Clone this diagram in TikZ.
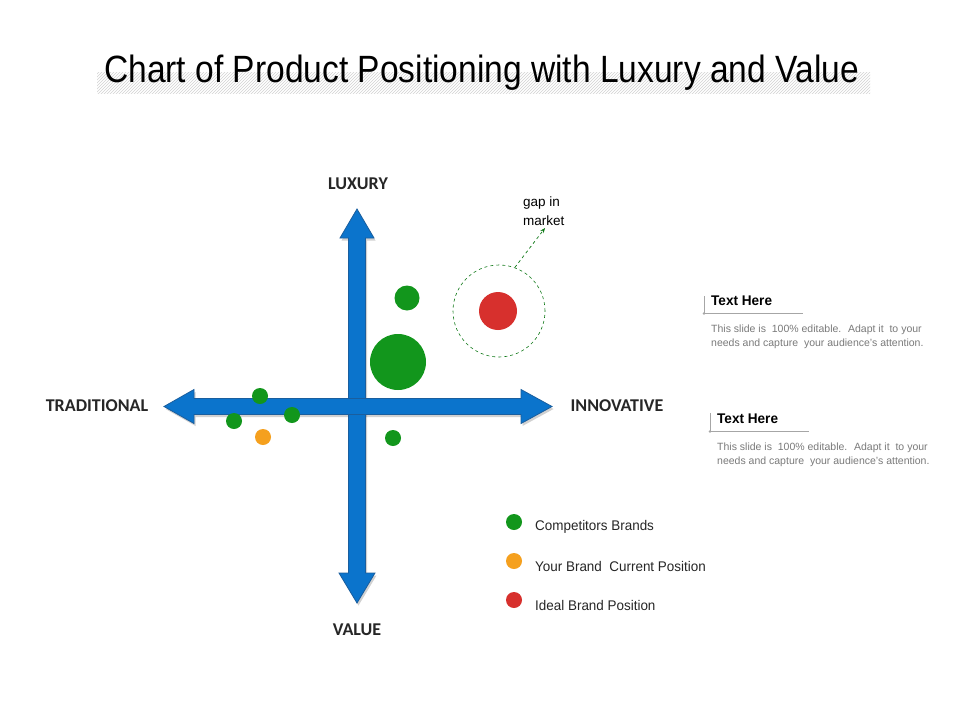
\documentclass[tikz,border=0pt]{standalone}
\usepackage{fontspec}
\setmainfont{Liberation Sans}
\newfontfamily\carlito{Carlito}
\usetikzlibrary{patterns,arrows.meta}
\definecolor{arrblue}{HTML}{0B74CC}
\definecolor{arredge}{HTML}{1A5E9E}
\definecolor{dotgreen}{HTML}{12961C}
\definecolor{dotred}{HTML}{D7302D}
\definecolor{dotorange}{HTML}{F5A01E}
\definecolor{txtgray}{HTML}{7A7A7A}
\definecolor{lblgray}{HTML}{262626}
\tikzset{
  axisarrow/.style={fill=arrblue, draw=arredge, line width=0.8pt, line join=miter},
  arrshadow/.style={fill=black, opacity=0.18},
  dot/.style={circle, inner sep=0pt, minimum size=#1, draw=none},
  gdot/.style={dot=#1, fill=dotgreen},
  axislabel/.style={font=\carlito\bfseries\fontsize{18}{20}\selectfont, text=lblgray, inner sep=0pt},
  legtext/.style={font=\fontsize{14}{16}\selectfont, text=lblgray, anchor=west, inner sep=0pt, xscale=0.96},
  headtext/.style={font=\bfseries\fontsize{14}{16}\selectfont, text=black, anchor=west, inner sep=0pt, xscale=0.97},
  bodytext/.style={font=\fontsize{10.5}{14}\selectfont, text=txtgray, anchor=north west, inner sep=0pt, align=left},
  calloutline/.style={draw=gray!70, line width=0.6pt},
}
\begin{document}
\begin{tikzpicture}[x=1pt,y=-1pt]
\useasboundingbox (0,0) rectangle (960,720);
\fill[white] (0,0) rectangle (960,720);
% title band
\fill[pattern=north east lines, pattern color=gray!35] (97,72) rectangle (870,93);
\node[anchor=base west, inner sep=0pt, font=\fontsize{38}{40}\selectfont, xscale=0.883] (title) at (104,82) {Chart of Product Positioning with Luxury and Value};
% shadows of arrows
\begin{scope}[shift={(1.5,2.5)}]
\fill[arrshadow] (357,209) -- (374,238) -- (365.5,238) -- (365.5,573) -- (375,573) -- (357,603) -- (339,573) -- (348.5,573) -- (348.5,238) -- (340,238) -- cycle;
\fill[arrshadow] (164,406.5) -- (194,389.5) -- (194,398.5) -- (521,398.5) -- (521,389.5) -- (552,406.5) -- (521,423.5) -- (521,414.5) -- (194,414.5) -- (194,423.5) -- cycle;
\end{scope}
% vertical arrow
\draw[axisarrow] (357,209) -- (374,238) -- (365.5,238) -- (365.5,573) -- (375,573) -- (357,603) -- (339,573) -- (348.5,573) -- (348.5,238) -- (340,238) -- cycle;
% horizontal arrow
\draw[axisarrow] (164,406.5) -- (194,389.5) -- (194,398.5) -- (521,398.5) -- (521,389.5) -- (552,406.5) -- (521,423.5) -- (521,414.5) -- (194,414.5) -- (194,423.5) -- cycle;
% axis labels
\node[axislabel] (lux) at (358,184) {LUXURY};
\node[axislabel] (val) at (357,630) {VALUE};
\node[axislabel] (trad) at (97,406) {TRADITIONAL};
\node[axislabel] (inno) at (617,406) {INNOVATIVE};
% dots
\node[gdot=25pt] (g1) at (407,298) {};
\node[gdot=56pt] (g2) at (398,362) {};
\node[gdot=16pt] (g3) at (260,396) {};
\node[gdot=16pt] (g4) at (234,421) {};
\node[gdot=16pt] (g5) at (292,415) {};
\node[gdot=16pt] (g6) at (393,438) {};
\node[dot=16pt, fill=dotorange] (o1) at (263,437) {};
% ideal position
\node[dot=92pt, draw=dotgreen!80!black, dashed, line width=0.6pt, fill=none] (gap) at (499,311) {};
\node[dot=38pt, fill=dotred] (r1) at (498,311) {};
\coordinate (gaptip) at (545,228);
\draw[dotgreen!80!black, dashed, line width=0.7pt, -{Stealth[length=5pt,width=4pt]}] (gap.70) -- (gaptip);
\node[anchor=north west, inner sep=0pt, align=left, font=\fontsize{13.5}{19}\selectfont] (gaptext) at (523,197) {gap in\\market};
% legend
\node[gdot=16pt] (lg) at (514,522) {};
\node[dot=16pt, fill=dotorange] (lo) at (514,561) {};
\node[dot=16pt, fill=dotred] (lr) at (514,600) {};
\node[legtext] (lgt) at (535,527) {Competitors Brands};
\node[legtext] (lot) at (535,566) {Your Brand~ Current Position};
\node[legtext] (lrt) at (535,605) {Ideal Brand Position};
% text block 1
\coordinate (c1a) at (704,296);
\coordinate (c1b) at (704,313.5);
\coordinate (c1c) at (803,313.5);
\draw[calloutline] (c1a) -- (c1b) -- (c1c);
\fill[gray!70] (c1b) circle (1.4pt);
\node[headtext] (h1) at (711,301) {Text Here};
\node[bodytext] (b1) at (711,324.5) {This slide is~ 100\% editable.~ Adapt it~ to your\\needs and capture~ your audience's attention.};
% text block 2
\coordinate (c2a) at (710,413);
\coordinate (c2b) at (710,431.5);
\coordinate (c2c) at (809,431.5);
\draw[calloutline] (c2a) -- (c2b) -- (c2c);
\fill[gray!70] (c2b) circle (1.4pt);
\node[headtext] (h2) at (717,419) {Text Here};
\node[bodytext] (b2) at (717,442.5) {This slide is~ 100\% editable.~ Adapt it~ to your\\needs and capture~ your audience's attention.};
\end{tikzpicture}
\end{document}
